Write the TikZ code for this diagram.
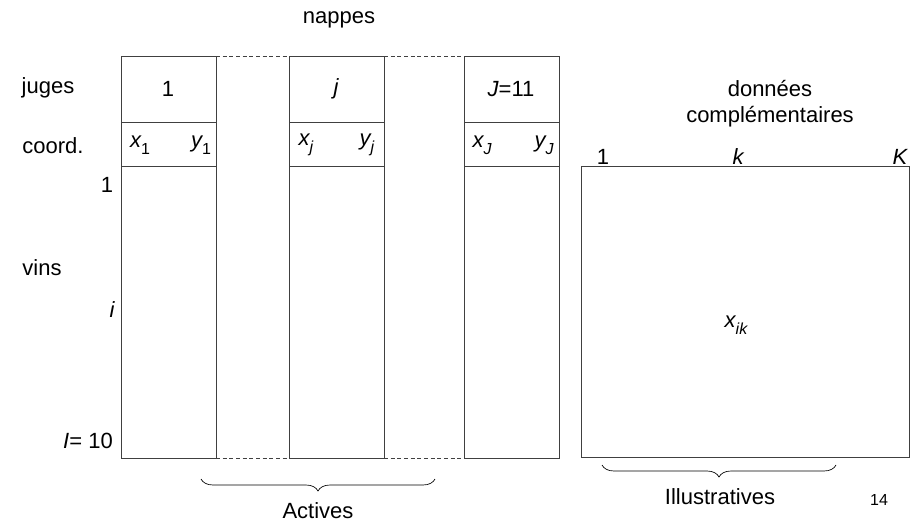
\documentclass[tikz,border=0pt]{standalone}
\usepackage{fontspec}
\setmainfont{Liberation Sans}
\usetikzlibrary{decorations.pathreplacing}
\newcommand\lowsub[1]{\raisebox{-0.6ex}{\fontsize{12}{12}\selectfont #1}}
\begin{document}
\begin{tikzpicture}[x=0.75pt,y=-0.75pt,
  box/.style={draw=black!75,line width=0.7pt},
  dashln/.style={draw=black!75,line width=0.7pt,dash pattern=on 3pt off 2pt},
  lbl/.style={font=\fontsize{16.5}{19}\selectfont,inner sep=0pt},
  brc/.style={draw,line width=0.5pt,decorate,decoration={brace,mirror,amplitude=9pt}}]
\useasboundingbox (0,0) rectangle (917,525);
% columns
\foreach \n/\l/\r in {c1/121/216,c2/289/384,c3/464/559}{
  \draw[box] (\l,56) rectangle (\r,458);
  \draw[box] (\l,122) -- (\r,122);
  \draw[box] (\l,166) -- (\r,166);
  \coordinate (\n tl) at (\l,56); \coordinate (\n tr) at (\r,56);
  \coordinate (\n bl) at (\l,458); \coordinate (\n br) at (\r,458);
}
\draw[dashln] (c1tr) -- (c2tl);
\draw[dashln] (c2tr) -- (c3tl);
\draw[dashln] (c1br) -- (c2bl);
\draw[dashln] (c2br) -- (c3bl);
% right box
\draw[box] (581,166) rectangle (909,457);
% labels
\node[lbl] (nappes) at (339,20) {nappes};
\node[lbl] (juges) at (48,88) {juges};
\node[lbl] (coord) at (53,146) {coord.};
\node[lbl] (r1) at (107,185) {1};
\node[lbl] (vins) at (42,268) {vins};
\node[lbl] (ri) at (112,310) {\itshape i};
\node[lbl] (rI) at (88,441) {{\itshape I}= 10};
\node[lbl] (h1) at (168,89) {1};
\node[lbl] (hj) at (336,89) {\itshape j};
\node[lbl] (hJ) at (511,89) {{\itshape J}=11};
\node[lbl] (x1) at (140,145) {{\itshape x}\lowsub{1}};
\node[lbl] (y1) at (201,145) {{\itshape y}\lowsub{1}};
\node[lbl] (xj) at (306,145) {{\itshape x}\lowsub{\itshape j}};
\node[lbl] (yj) at (367,145) {{\itshape y}\lowsub{\itshape j}};
\node[lbl] (xJ) at (482,145) {{\itshape x}\lowsub{\itshape J}};
\node[lbl] (yJ) at (544,145) {{\itshape y}\lowsub{\itshape J}};
\node[lbl] (don) at (770,89) {données};
\node[lbl] (comp) at (770,117) {complémentaires};
\node[lbl] (k1) at (603,157) {1};
\node[lbl] (kk) at (738,157) {\itshape k};
\node[lbl] (kK) at (900,157) {\itshape K};
\node[lbl] (xik) at (736,325) {{\itshape x}\lowsub{\itshape ik}};
% braces
\coordinate (ba) at (201,479); \coordinate (bb) at (435,479);
\draw[brc] (ba) -- (bb);
\node[lbl] (act) at (318,511) {Actives};
\coordinate (bc) at (602,465); \coordinate (bd) at (836,465);
\draw[brc] (bc) -- (bd);
\node[lbl] (ill) at (720,497) {Illustratives};
\node[font=\fontsize{12}{14}\selectfont,inner sep=0pt] (pg) at (879,500) {14};
\end{tikzpicture}
\end{document}
